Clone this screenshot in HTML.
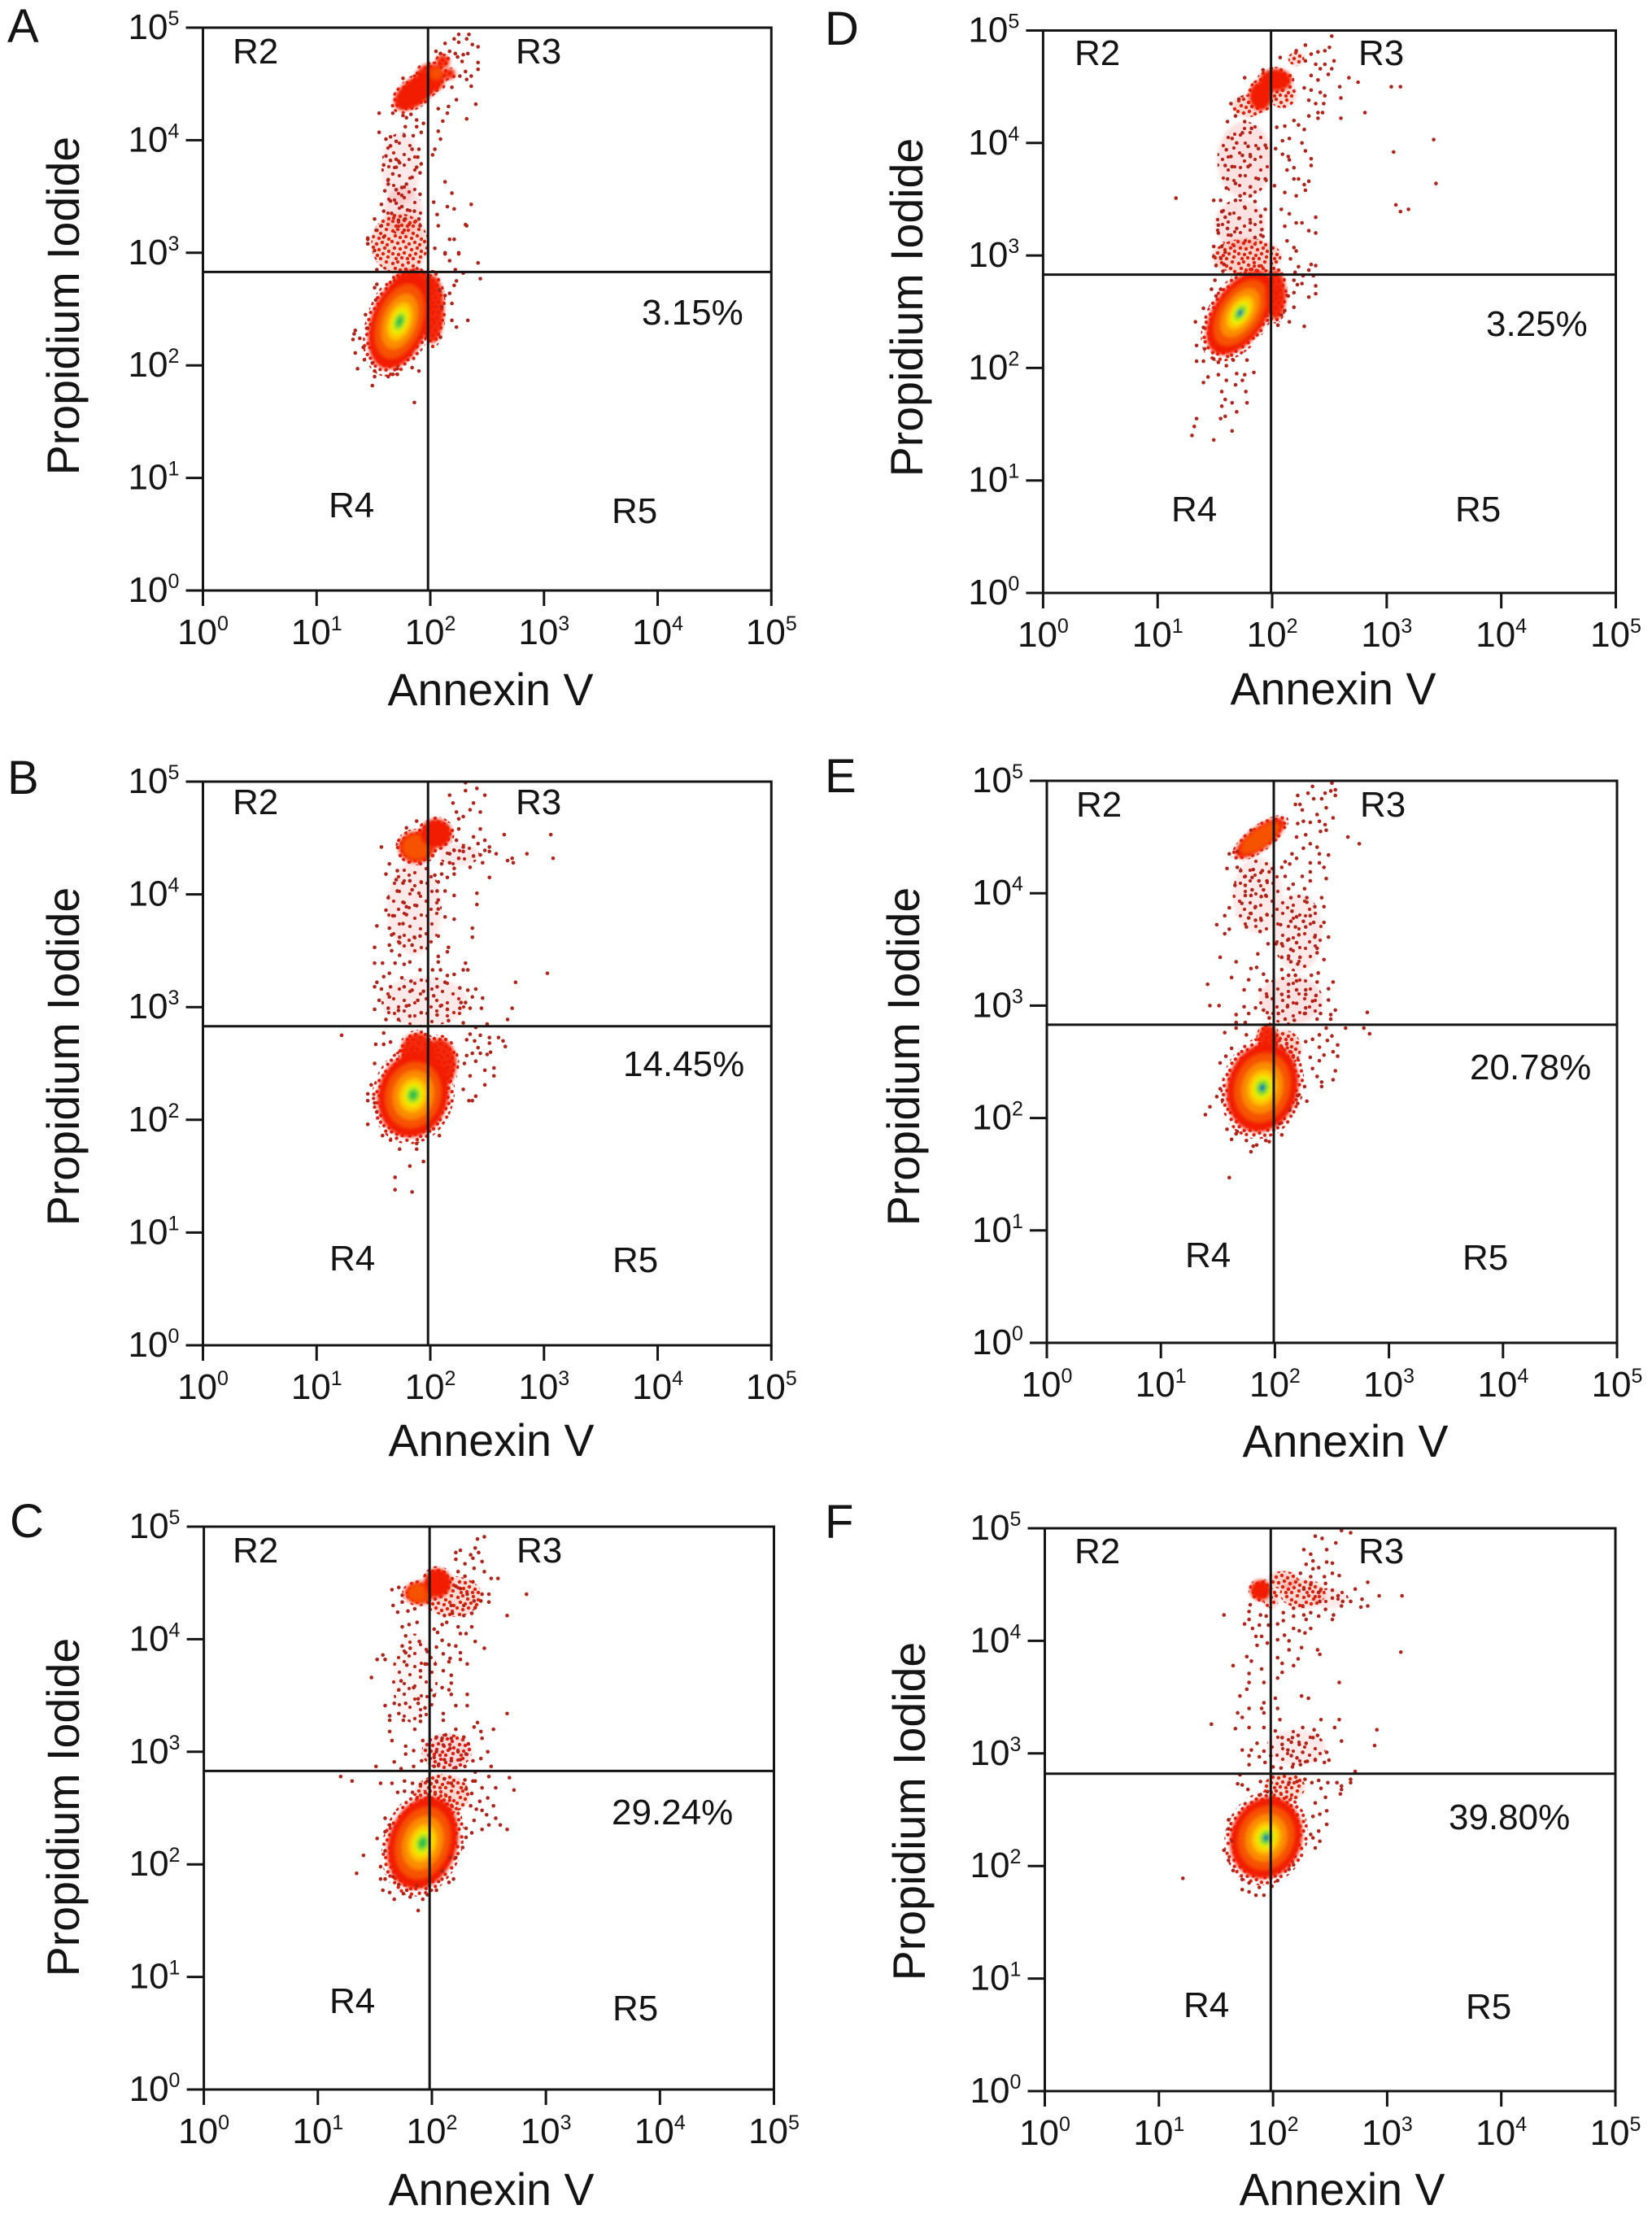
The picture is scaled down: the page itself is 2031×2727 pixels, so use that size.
<!DOCTYPE html>
<html lang="en">
<head>
<meta charset="utf-8">
<title>Annexin V / Propidium Iodide flow cytometry panels</title>
<style>
html,body{margin:0;padding:0;background:#fff;}
svg{display:block;}
text{font-family:"Liberation Sans",Arial,sans-serif;fill:#141414;}
</style>
</head>
<body>
<svg id="figure" xmlns="http://www.w3.org/2000/svg" width="2031" height="2727" viewBox="0 0 2031 2727">
<defs>
<filter id="soft" x="-30%" y="-30%" width="160%" height="160%"><feGaussianBlur stdDeviation="2"/></filter>
<pattern id="speckle-dense" patternUnits="userSpaceOnUse" width="40" height="40">
<g fill="#dc2010"><circle cx="3" cy="4" r="2.2"/><circle cx="9" cy="2" r="2.2"/><circle cx="15" cy="6" r="2.2"/><circle cx="22" cy="3" r="2.2"/><circle cx="28" cy="7" r="2.2"/><circle cx="35" cy="2" r="2.2"/><circle cx="6" cy="10" r="2.2"/><circle cx="12" cy="12" r="2.2"/><circle cx="19" cy="11" r="2.2"/><circle cx="26" cy="13" r="2.2"/><circle cx="33" cy="10" r="2.2"/><circle cx="38" cy="14" r="2.2"/><circle cx="2" cy="17" r="2.2"/><circle cx="9" cy="19" r="2.2"/><circle cx="16" cy="17" r="2.2"/><circle cx="23" cy="20" r="2.2"/><circle cx="30" cy="18" r="2.2"/><circle cx="36" cy="21" r="2.2"/><circle cx="5" cy="25" r="2.2"/><circle cx="12" cy="26" r="2.2"/><circle cx="19" cy="24" r="2.2"/><circle cx="26" cy="27" r="2.2"/><circle cx="33" cy="25" r="2.2"/><circle cx="38" cy="29" r="2.2"/><circle cx="3" cy="32" r="2.2"/><circle cx="10" cy="33" r="2.2"/><circle cx="17" cy="31" r="2.2"/><circle cx="24" cy="34" r="2.2"/><circle cx="31" cy="32" r="2.2"/><circle cx="37" cy="36" r="2.2"/><circle cx="7" cy="38" r="2.2"/><circle cx="14" cy="37" r="2.2"/><circle cx="21" cy="38" r="2.2"/><circle cx="28" cy="38" r="2.2"/></g>
</pattern>
<pattern id="speckle-sparse" patternUnits="userSpaceOnUse" width="40" height="40">
<g fill="#b8261a"><circle cx="5" cy="6" r="2.1"/><circle cx="17" cy="3" r="2.1"/><circle cx="30" cy="9" r="2.1"/><circle cx="11" cy="16" r="2.1"/><circle cx="24" cy="19" r="2.1"/><circle cx="37" cy="22" r="2.1"/><circle cx="4" cy="28" r="2.1"/><circle cx="17" cy="30" r="2.1"/><circle cx="30" cy="33" r="2.1"/><circle cx="38" cy="5" r="2.1"/><circle cx="10" cy="38" r="2.1"/><circle cx="23" cy="36" r="2.1"/></g>
</pattern>
</defs>
<rect width="2031" height="2727" fill="#fff"/>
</svg>
<script>
// ---- shared chart values ----
const tickExponents = [0, 1, 2, 3, 4, 5];
const xAxisTitle = "Annexin V";
const yAxisTitle = "Propidium Iodide";
const regionNames = ["R2", "R3", "R4", "R5"];
const densityColors = ["#f21c00", "#f65200", "#fb8c00", "#ffc400", "#ecef00", "#98e020", "#20c048", "#1048c8"];
const densityLevels = [1, 0.78, 0.58, 0.40, 0.28, 0.19, 0.11, 0.06];

// Quadrant gates, in log10 decades
const gateX = { A: 1.98, B: 1.98, C: 1.98, D: 1.99, E: 1.99, F: 1.98 };
const gateY = { A: 2.83, B: 2.83, C: 2.83, D: 2.83, E: 2.83, F: 2.82 };

// Printed R5 percentages
const percentLabels = { A: "3.15%", B: "14.45%", C: "29.24%", D: "3.25%", E: "20.78%", F: "39.80%" };

// Density clusters: [logX, logY, spreadX, spreadY, tilt, levels, opacity]
const clustersA = [[1.76,3.37,0.17,0.22,0,1,0.4],[1.73,3.08,0.25,0.27,0,1,0.6],[1.74,3.75,0.17,0.32,0,1,0.3],[2.02,2.5,0.1,0.3,0,1,0.95],[1.85,2.72,0.18,0.13,0,1,0.95],[1.73,2.39,0.25,0.44,20,7,1],[1.87,4.43,0.22,0.12,-38,1,1],[2.0,4.55,0.13,0.13,0,1,0.95],[2.11,4.70,0.06,0.06,0,1,0.9],[2.17,4.59,0.05,0.05,0,1,0.9],[2.05,4.59,0.07,0.07,0,2,0.9]];
const clustersB = [[1.86,3.88,0.24,0.42,0,1,0.3],[1.95,3.05,0.38,0.22,0,1,0.3],[1.89,2.6,0.15,0.17,0,1,0.95],[2.08,2.5,0.15,0.22,0,1,0.95],[1.85,2.22,0.31,0.38,15,7,1],[1.88,4.42,0.16,0.14,0,2,1],[2.05,4.54,0.14,0.13,0,1,1],[2.25,4.35,0.18,0.1,0,1,0.3]];
const clustersC = [[2.13,3.00,0.22,0.16,0,1,0.5],[2.09,2.62,0.24,0.18,0,1,0.6],[1.92,2.19,0.30,0.42,18,7,1],[1.89,4.41,0.13,0.1,0,2,1],[2.05,4.5,0.12,0.13,0,1,1],[2.18,4.38,0.26,0.18,0,1,0.55],[1.85,3.65,0.2,0.4,0,1,0.15]];
const clustersD = [[1.76,3.85,0.24,0.34,0,1,0.4],[1.72,3.28,0.22,0.22,0,1,0.4],[1.78,2.99,0.3,0.16,0,1,0.7],[1.72,2.49,0.23,0.42,33,8,1],[2.03,2.65,0.09,0.22,0,1,0.95],[2.03,4.56,0.14,0.1,0,1,1],[1.90,4.42,0.1,0.13,0,1,1],[1.79,4.33,0.14,0.1,0,1,0.6],[2.09,4.43,0.12,0.12,0,1,0.6],[2.21,4.75,0.07,0.06,0,1,0.6]];
const clustersE = [[2.14,3.05,0.28,0.22,0,1,0.4],[1.85,3.98,0.22,0.34,0,1,0.3],[2.2,3.65,0.22,0.35,0,1,0.3],[1.94,2.7,0.09,0.13,0,1,0.95],[2.09,2.62,0.14,0.16,0,1,0.7],[1.89,2.27,0.31,0.40,15,8,1],[1.87,4.49,0.26,0.1,-37,2,1]];
const clustersF = [[2.2,3.05,0.26,0.16,0,1,0.3],[2.10,2.7,0.18,0.13,0,1,0.55],[1.89,4.45,0.09,0.09,0,1,1],[1.98,4.38,0.07,0.09,0,1,0.7],[2.09,4.54,0.13,0.08,0,1,0.7],[2.26,4.42,0.2,0.13,0,1,0.6],[2.50,4.38,0.16,0.09,0,1,0.3],[1.94,2.25,0.31,0.37,20,8,1]];

// Individual events: [log10 Annexin V, log10 Propidium Iodide]
const dotsA = [[2.25,4.94],[2.34,4.94],[2.21,4.90],[2.25,4.87],[2.32,4.90],[2.13,4.86],[2.37,4.85],[2.42,4.83],[2.05,4.79],[2.17,4.79],[2.09,4.77],[2.22,4.77],[2.29,4.76],[2.33,4.77],[2.24,4.74],[2.28,4.70],[2.42,4.69],[2.42,4.63],[2.31,4.61],[2.26,4.57],[2.36,4.57],[2.32,4.54],[2.36,4.48],[2.19,4.47],[2.23,4.36],[2.40,4.32],[2.32,4.19],[2.15,4.24],[2.11,4.17],[2.16,4.30],[2.07,4.28],[1.76,4.55],[1.55,4.24],[1.67,4.24],[1.55,4.07],[1.65,4.03],[1.61,4.01],[1.70,3.99],[1.65,3.95],[1.61,3.86],[1.59,3.78],[1.65,3.82],[1.70,3.83],[1.73,3.80],[1.70,3.76],[1.67,3.70],[1.63,3.65],[1.63,3.61],[1.60,3.55],[1.70,3.56],[1.75,3.58],[1.79,3.61],[1.84,3.67],[1.91,3.71],[1.88,3.76],[1.92,3.79],[1.89,3.85],[1.84,3.92],[1.90,3.92],[2.04,3.92],[2.02,3.87],[1.77,4.04],[1.85,4.04],[1.94,4.15],[1.92,4.07],[1.79,4.20],[1.83,4.23],[1.76,4.22],[1.78,4.12],[1.88,4.18],[1.88,4.12],[2.07,4.08],[2.09,4.01],[2.13,3.63],[2.19,3.53],[2.03,3.45],[2.15,3.41],[2.21,3.39],[2.36,3.43],[2.06,3.34],[2.07,3.24],[2.32,3.24],[2.17,3.12],[2.21,3.12],[2.04,3.04],[2.13,2.99],[2.25,2.99],[1.45,3.12],[1.45,3.08],[1.51,3.30],[1.57,3.43],[1.59,3.37],[1.65,3.46],[1.70,3.44],[1.75,3.41],[1.80,3.38],[1.86,3.37],[1.91,3.52],[1.53,3.20],[1.57,3.24],[1.75,3.51],[1.66,3.35],[1.72,3.29],[1.78,3.30],[1.90,3.30],[1.91,3.24],[1.59,3.14],[2.42,2.91],[2.44,2.77],[2.31,3.25],[2.13,3.00],[2.25,3.00],[2.17,2.93],[2.22,2.85],[2.29,2.82],[2.23,2.75],[2.21,2.71],[2.17,2.64],[2.19,2.55],[2.19,2.40],[2.33,2.40],[2.23,2.34],[2.09,2.25],[2.10,2.52],[2.13,2.62],[2.08,2.67],[1.33,2.28],[1.34,2.31],[1.32,2.23],[1.34,2.11],[1.38,2.24],[1.42,2.05],[1.36,1.97],[1.49,1.82],[1.51,1.95],[1.51,1.90],[1.63,1.90],[1.67,1.92],[1.71,1.97],[1.71,1.92],[1.84,1.98],[1.90,1.95],[1.86,1.67],[1.49,2.02],[1.43,2.45],[1.45,2.33],[1.41,2.16],[1.52,2.58],[1.51,2.69],[1.53,2.72],[1.45,3.13],[1.45,3.08],[1.51,3.02],[1.53,2.85]];

const dotsB = [[2.31,4.99],[2.31,4.92],[2.41,4.94],[2.48,4.88],[2.17,4.88],[2.20,4.81],[2.38,4.81],[2.35,4.75],[2.23,4.73],[2.44,4.73],[2.29,4.69],[2.25,4.67],[2.25,4.58],[2.44,4.58],[2.38,4.51],[2.48,4.48],[2.65,4.53],[3.06,4.53],[2.85,4.36],[3.08,4.32],[2.72,4.32],[2.68,4.30],[2.73,4.28],[2.58,4.36],[2.52,4.42],[2.52,4.38],[2.48,4.39],[2.44,4.35],[2.38,4.34],[2.42,4.45],[2.29,4.42],[2.29,4.38],[2.23,4.48],[2.21,4.39],[2.17,4.36],[2.25,4.32],[2.17,4.28],[2.10,4.27],[2.35,4.24],[2.21,4.23],[2.46,4.28],[2.52,4.15],[2.21,4.18],[2.15,4.15],[2.10,4.18],[2.04,4.17],[2.07,4.11],[1.57,4.42],[1.79,4.59],[1.88,4.65],[1.64,4.27],[1.71,4.21],[1.61,4.18],[1.70,4.13],[1.76,4.10],[1.82,4.12],[1.92,4.11],[1.84,4.04],[1.90,4.01],[1.71,4.03],[1.63,3.97],[1.76,3.93],[1.88,3.90],[1.79,3.89],[2.06,4.03],[2.13,4.03],[2.21,3.99],[2.07,3.95],[2.41,4.01],[2.41,3.91],[2.07,3.87],[2.13,3.80],[2.21,3.78],[1.61,3.86],[1.67,3.81],[1.79,3.82],[1.76,3.74],[1.53,3.72],[1.64,3.70],[1.66,3.64],[1.73,3.62],[1.86,3.62],[1.91,3.63],[2.37,3.70],[2.37,3.62],[2.07,3.63],[2.16,3.53],[1.51,3.53],[1.64,3.55],[1.73,3.57],[1.84,3.55],[1.66,3.50],[1.73,3.46],[1.51,3.39],[1.58,3.39],[1.69,3.39],[1.77,3.38],[1.82,3.40],[1.91,3.33],[2.07,3.45],[2.07,3.40],[2.15,3.49],[2.31,3.39],[2.29,3.33],[2.33,3.33],[3.03,3.30],[2.75,3.22],[2.09,3.33],[2.02,3.33],[2.21,3.29],[2.15,3.28],[1.53,3.22],[1.59,3.27],[1.64,3.30],[1.65,3.18],[1.51,3.18],[1.57,3.16],[1.75,3.26],[1.83,3.23],[1.77,3.18],[1.84,3.15],[1.94,3.14],[2.06,3.18],[2.13,3.22],[2.26,3.17],[2.33,3.15],[2.40,3.16],[2.37,3.09],[2.46,3.08],[2.27,3.04],[2.31,3.04],[2.35,2.99],[2.45,2.99],[2.26,2.99],[2.72,2.99],[2.68,2.89],[2.50,2.85],[2.40,2.82],[2.29,2.86],[2.15,2.98],[2.09,3.01],[2.03,3.10],[1.89,3.06],[1.79,3.01],[1.72,2.97],[1.64,3.09],[1.55,3.06],[1.51,2.98],[1.63,2.99],[1.61,2.89],[1.72,2.89],[1.82,2.92],[1.92,2.95],[2.06,2.93],[2.16,2.88],[1.22,2.75],[2.52,2.73],[2.60,2.73],[2.64,2.70],[2.66,2.65],[2.52,2.68],[2.44,2.75],[2.35,2.76],[2.32,2.71],[2.39,2.70],[2.42,2.64],[2.53,2.60],[2.50,2.58],[2.44,2.59],[2.37,2.59],[2.32,2.57],[2.40,2.52],[2.30,2.50],[2.48,2.44],[2.56,2.46],[2.56,2.39],[2.35,2.39],[2.48,2.31],[2.29,2.27],[2.40,2.21],[2.34,2.17],[2.37,2.17],[2.08,1.86],[1.52,2.67],[1.59,2.67],[1.65,2.69],[1.51,2.50],[1.59,2.77],[1.45,2.23],[1.45,2.17],[1.51,2.15],[1.53,2.07],[1.45,1.96],[1.48,2.31],[1.58,1.86],[1.65,1.82],[1.73,1.74],[1.88,1.79],[1.88,1.74],[1.82,1.59],[1.94,1.63],[1.69,1.49],[1.69,1.38],[1.84,1.36]];

const dotsC = [[2.46,4.91],[2.40,4.89],[2.25,4.79],[2.21,4.77],[2.38,4.81],[2.41,4.77],[2.34,4.75],[2.36,4.72],[2.21,4.71],[2.44,4.69],[2.29,4.67],[2.37,4.63],[2.46,4.60],[2.23,4.60],[2.29,4.56],[2.52,4.54],[2.58,4.54],[2.36,4.51],[2.83,4.40],[2.50,4.40],[2.44,4.40],[2.50,4.33],[2.43,4.34],[2.37,4.34],[2.31,4.40],[2.25,4.45],[2.21,4.47],[2.28,4.30],[2.38,4.28],[2.66,4.21],[2.35,4.23],[2.28,4.21],[2.17,4.30],[2.11,4.21],[2.18,4.23],[2.13,4.15],[2.23,4.11],[2.35,4.11],[2.30,4.05],[2.25,4.05],[2.38,3.98],[2.46,3.92],[2.09,4.13],[2.02,4.09],[2.05,4.06],[2.09,3.99],[2.15,3.95],[2.21,3.94],[2.25,3.88],[2.04,3.93],[2.10,3.87],[2.16,3.83],[2.15,3.80],[2.25,3.82],[2.31,3.78],[2.03,3.78],[2.10,3.72],[2.17,3.68],[2.17,3.61],[2.09,3.57],[2.15,3.55],[2.17,3.51],[2.31,3.51],[2.02,3.50],[2.21,3.41],[2.31,3.41],[2.66,3.34],[2.10,3.34],[2.10,3.28],[2.40,3.26],[2.37,3.22],[2.54,3.20],[2.43,3.18],[2.44,3.12],[2.21,3.20],[1.65,4.44],[1.71,4.46],[1.66,4.30],[1.70,4.24],[1.74,4.39],[1.74,4.33],[1.79,4.25],[1.85,4.27],[1.74,4.11],[1.80,4.13],[1.87,4.15],[1.77,4.03],[1.74,3.94],[1.81,3.92],[1.89,3.98],[1.77,3.88],[1.96,3.89],[1.57,3.86],[1.52,3.82],[1.59,3.82],[1.78,3.77],[1.94,3.78],[1.90,3.72],[1.47,3.66],[1.73,3.63],[1.84,3.57],[1.71,3.55],[1.88,3.47],[1.88,3.43],[1.59,3.41],[1.67,3.43],[1.77,3.43],[1.94,3.39],[1.63,3.32],[1.71,3.34],[1.90,3.32],[1.63,3.28],[1.75,3.28],[1.90,3.27],[1.85,3.20],[1.63,3.18],[1.65,3.10],[1.77,3.05],[1.92,3.10],[1.84,3.01],[1.77,2.98],[1.67,2.91],[1.51,2.87],[1.73,2.85],[1.84,2.87],[1.91,2.92],[2.04,3.13],[2.09,3.12],[2.12,3.15],[2.17,3.12],[2.28,3.13],[2.32,3.07],[2.10,3.06],[2.04,3.00],[2.02,2.95],[2.16,3.03],[2.23,3.00],[2.30,2.98],[2.49,3.00],[2.43,2.94],[2.52,2.87],[2.36,2.92],[2.25,2.93],[2.17,2.92],[2.11,2.93],[2.06,2.89],[2.21,2.86],[2.29,2.87],[2.02,2.87],[2.38,2.82],[1.20,2.78],[1.30,2.74],[1.55,2.72],[1.65,2.72],[1.76,2.74],[1.83,2.72],[1.76,2.65],[1.70,2.64],[1.83,2.64],[1.90,2.71],[1.96,2.74],[2.04,2.74],[2.11,2.76],[2.17,2.72],[2.29,2.75],[2.36,2.74],[2.50,2.78],[2.68,2.77],[2.72,2.66],[2.56,2.68],[2.44,2.68],[2.38,2.74],[2.30,2.67],[2.35,2.63],[2.49,2.59],[2.42,2.56],[2.54,2.52],[2.34,2.52],[2.39,2.49],[2.44,2.48],[2.48,2.44],[2.56,2.41],[2.37,2.39],[2.50,2.35],[2.60,2.35],[2.66,2.31],[2.44,2.31],[2.30,2.32],[2.35,2.28],[2.30,2.24],[2.27,2.15],[2.21,2.06],[2.16,2.06],[1.40,2.08],[1.34,1.92],[1.59,2.41],[1.63,2.35],[1.59,2.29],[1.52,2.23],[1.59,2.12],[1.55,1.98],[1.55,1.87],[1.59,1.87],[1.57,1.77],[1.63,1.75],[1.67,1.69],[1.75,1.74],[1.81,1.71],[1.88,1.59],[1.92,1.69],[1.96,1.73],[2.04,1.77],[2.15,1.84],[2.19,1.87],[2.09,1.94],[1.78,1.77],[1.87,1.81],[1.71,1.82],[1.66,1.89]];

const dotsD = [[2.52,4.95],[2.50,4.85],[2.29,4.87],[2.21,4.82],[2.40,4.81],[2.46,4.82],[2.34,4.79],[2.07,4.76],[2.29,4.73],[2.54,4.73],[2.38,4.70],[2.46,4.70],[2.42,4.66],[2.52,4.66],[2.49,4.61],[2.67,4.58],[2.75,4.54],[3.04,4.50],[3.12,4.50],[2.59,4.50],[2.34,4.60],[2.40,4.56],[2.28,4.49],[2.34,4.47],[2.42,4.45],[2.46,4.42],[2.60,4.40],[2.32,4.38],[2.38,4.35],[2.45,4.35],[2.40,4.27],[2.44,4.27],[2.32,4.24],[2.40,4.22],[2.81,4.27],[2.60,4.22],[2.19,4.20],[2.23,4.16],[2.28,4.12],[2.11,4.15],[2.04,4.14],[2.15,4.04],[2.26,4.00],[2.29,3.93],[2.34,3.86],[2.34,3.80],[2.09,4.02],[2.03,3.95],[2.09,3.90],[2.14,3.88],[2.15,3.85],[2.13,3.76],[2.19,3.78],[2.19,3.68],[2.23,3.68],[2.32,3.66],[2.28,3.63],[2.02,3.62],[2.29,3.58],[2.11,3.56],[2.21,3.53],[2.08,3.41],[2.15,3.37],[2.38,3.34],[2.26,3.29],[2.21,3.29],[2.11,3.26],[2.32,3.22],[2.38,3.20],[2.13,3.13],[2.19,3.07],[2.21,3.04],[2.16,2.97],[2.23,2.90],[2.34,2.92],[2.38,2.91],[2.32,2.87],[2.20,2.85],[2.27,2.82],[2.36,2.82],[3.41,4.03],[3.06,3.92],[3.43,3.64],[3.08,3.45],[3.12,3.39],[3.19,3.41],[1.16,3.51],[1.76,4.58],[1.92,4.65],[1.64,4.35],[1.71,4.39],[1.68,4.24],[1.61,4.19],[1.76,4.19],[1.82,4.13],[1.74,4.09],[1.65,4.04],[1.69,4.00],[1.79,3.97],[1.60,3.94],[1.64,3.88],[1.74,3.89],[1.81,3.88],[1.88,3.95],[1.94,3.98],[1.59,3.80],[1.65,3.79],[1.79,3.79],[1.72,3.71],[1.61,3.68],[1.88,3.68],[1.94,3.68],[1.68,3.64],[1.60,3.60],[1.81,3.61],[1.72,3.53],[1.81,3.53],[1.49,3.49],[1.55,3.49],[1.68,3.49],[1.85,3.48],[1.76,3.43],[1.56,3.39],[1.94,3.41],[1.63,3.37],[1.90,3.35],[1.59,3.34],[1.71,3.33],[1.81,3.29],[1.53,3.27],[1.61,3.24],[1.69,3.24],[1.91,3.23],[1.53,3.20],[1.64,3.18],[1.85,3.16],[1.92,3.17],[1.49,3.08],[1.56,3.08],[1.59,3.03],[1.49,2.99],[1.55,2.98],[1.51,2.91],[1.58,2.92],[1.57,2.86],[1.50,2.78],[1.47,2.70],[1.55,2.70],[1.51,2.64],[2.19,2.78],[2.22,2.74],[2.26,2.75],[2.38,2.73],[2.38,2.66],[2.32,2.63],[2.19,2.67],[2.14,2.64],[2.19,2.54],[2.15,2.41],[2.28,2.37],[2.08,2.47],[2.11,2.51],[2.05,2.38],[1.40,2.53],[1.33,2.41],[1.34,2.20],[1.41,2.17],[1.40,2.36],[1.34,2.06],[1.40,2.06],[1.49,2.08],[1.53,2.05],[1.60,2.02],[1.66,2.07],[1.78,2.07],[1.69,1.95],[1.76,1.94],[1.84,1.96],[1.53,1.94],[1.44,1.92],[1.40,1.87],[1.60,1.89],[1.68,1.85],[1.74,1.89],[1.56,1.79],[1.77,1.79],[1.59,1.72],[1.65,1.69],[1.78,1.69],[1.56,1.66],[1.69,1.61],[1.34,1.55],[1.32,1.48],[1.55,1.55],[1.59,1.57],[1.30,1.40],[1.49,1.36],[1.65,1.44]];

const dotsE = [[2.50,4.98],[2.33,4.95],[2.53,4.92],[2.49,4.91],[2.44,4.89],[2.29,4.89],[2.20,4.87],[2.53,4.87],[2.41,4.84],[2.34,4.84],[2.18,4.79],[2.22,4.79],[2.45,4.76],[2.24,4.74],[2.37,4.70],[2.51,4.67],[2.39,4.64],[2.44,4.61],[2.25,4.64],[2.31,4.63],[2.20,4.62],[2.45,4.56],[2.40,4.55],[2.64,4.50],[2.74,4.44],[2.19,4.50],[2.27,4.52],[2.31,4.44],[2.37,4.41],[2.25,4.40],[2.47,4.34],[2.39,4.35],[2.15,4.35],[2.19,4.31],[2.31,4.27],[2.39,4.27],[2.43,4.23],[2.31,4.19],[2.24,4.15],[2.09,4.28],[2.13,4.26],[2.06,4.23],[2.09,4.15],[2.16,4.08],[2.31,4.11],[2.45,4.13],[2.26,4.04],[2.12,4.04],[2.14,3.96],[2.28,3.96],[2.41,3.96],[2.28,3.92],[2.35,3.88],[2.43,3.88],[2.15,3.84],[2.31,3.80],[2.14,3.75],[2.19,3.79],[2.25,3.75],[2.34,3.74],[2.43,3.74],[2.18,3.70],[2.27,3.70],[2.05,3.72],[2.21,3.63],[2.35,3.61],[2.47,3.61],[2.12,3.59],[2.19,3.56],[2.06,3.55],[2.01,3.55],[2.14,3.50],[2.37,3.51],[2.37,3.47],[2.22,3.43],[2.12,3.44],[2.06,3.43],[2.43,3.41],[2.20,3.37],[2.14,3.39],[2.06,3.32],[2.38,3.29],[2.18,3.27],[2.12,3.27],[2.32,3.27],[2.37,3.21],[2.51,3.21],[2.19,3.22],[2.12,3.19],[2.47,3.15],[2.27,3.14],[2.19,3.14],[2.06,3.10],[2.12,3.08],[2.27,3.10],[2.36,3.09],[2.47,3.05],[2.19,3.02],[2.33,3.04],[2.11,2.99],[2.27,2.98],[2.40,2.93],[2.53,2.96],[2.49,2.92],[2.81,2.94],[2.49,2.88],[2.37,2.88],[2.26,2.93],[2.17,2.87],[2.09,2.88],[2.03,2.93],[1.60,3.87],[1.56,3.80],[1.49,3.72],[1.60,3.68],[1.56,3.64],[1.75,3.70],[1.87,3.66],[1.83,3.76],[1.77,3.78],[1.88,3.76],[1.83,3.88],[1.79,3.82],[1.93,3.81],[1.71,3.91],[1.74,3.98],[1.79,3.98],[1.88,3.97],[1.92,3.98],[1.65,4.07],[1.74,4.07],[1.80,4.03],[1.90,4.03],[1.74,4.15],[1.80,4.14],[1.86,4.11],[1.93,4.11],[1.81,4.21],[1.89,4.20],[1.95,4.19],[1.58,4.22],[1.67,4.23],[1.70,4.20],[1.60,4.35],[1.67,4.37],[1.79,4.56],[1.52,3.43],[1.66,3.39],[1.79,3.33],[1.84,3.34],[1.94,3.55],[1.85,3.46],[1.62,3.25],[1.77,3.23],[1.90,3.28],[1.93,3.22],[1.41,3.19],[1.73,3.14],[1.87,3.14],[1.93,3.08],[1.43,3.00],[1.51,3.00],[1.73,2.99],[1.83,2.98],[1.77,2.93],[1.90,2.96],[1.66,2.92],[1.95,2.89],[1.66,2.85],[1.74,2.85],[1.56,2.76],[1.66,2.80],[1.75,2.74],[2.62,2.80],[2.78,2.80],[2.83,2.75],[2.45,2.80],[2.50,2.73],[2.39,2.74],[2.46,2.69],[2.55,2.65],[2.33,2.70],[2.27,2.68],[2.39,2.63],[2.51,2.59],[2.55,2.55],[2.43,2.56],[2.31,2.54],[2.39,2.51],[2.53,2.42],[2.33,2.44],[2.37,2.37],[2.51,2.34],[2.41,2.32],[2.41,2.28],[2.26,2.28],[2.20,2.20],[2.28,2.15],[2.20,2.13],[2.06,1.85],[2.04,1.95],[2.13,2.07],[1.60,1.47],[1.79,1.70],[1.81,1.75],[1.84,1.76],[1.92,1.80],[1.95,1.79],[1.75,1.80],[1.62,1.81],[1.67,1.88],[1.58,1.90],[1.39,2.03],[1.43,2.10],[1.49,2.19],[1.54,2.16],[1.52,2.26],[1.52,2.49],[1.57,2.55],[1.62,2.62],[1.66,1.86]];

const dotsF = [[2.60,4.98],[2.68,4.96],[2.37,4.93],[2.43,4.91],[2.55,4.87],[2.27,4.81],[2.47,4.81],[2.33,4.77],[2.35,4.71],[2.47,4.70],[2.52,4.69],[2.29,4.68],[2.40,4.65],[2.35,4.64],[2.52,4.60],[2.58,4.58],[2.24,4.60],[2.33,4.57],[2.45,4.57],[2.83,4.52],[2.46,4.51],[2.72,4.46],[2.52,4.45],[2.33,4.50],[2.27,4.46],[2.40,4.43],[2.57,4.40],[2.93,4.40],[3.13,4.40],[2.78,4.37],[2.61,4.35],[2.68,4.35],[2.77,4.30],[2.83,4.31],[2.41,4.35],[2.52,4.38],[2.46,4.28],[2.60,4.31],[2.53,4.23],[2.52,4.19],[2.40,4.22],[2.33,4.25],[2.27,4.23],[2.29,4.19],[2.18,4.22],[2.09,4.25],[2.18,4.29],[2.26,4.31],[2.04,4.15],[2.09,4.18],[2.18,4.11],[2.23,4.09],[2.28,4.07],[2.33,4.11],[2.10,4.05],[2.14,4.00],[2.04,4.01],[2.14,3.92],[2.25,3.94],[2.39,3.92],[2.41,3.88],[2.22,3.84],[2.08,3.80],[2.18,3.78],[2.04,3.85],[2.08,3.72],[2.04,3.67],[2.58,3.63],[3.12,3.90],[1.57,4.23],[1.79,4.26],[1.80,4.32],[1.79,4.19],[1.75,4.15],[1.82,4.11],[1.89,4.23],[1.94,4.22],[1.88,4.14],[1.96,4.14],[1.85,4.04],[1.90,4.04],[1.95,3.98],[1.86,3.96],[1.77,3.86],[1.81,3.82],[1.65,3.78],[1.90,3.75],[1.79,3.71],[1.79,3.63],[1.92,3.63],[1.77,3.57],[1.71,3.51],[1.92,3.45],[1.79,3.40],[1.90,3.40],[1.92,3.36],[1.69,3.36],[1.73,3.32],[1.46,3.26],[1.67,3.22],[1.79,3.23],[1.92,3.23],[2.02,3.49],[2.04,3.40],[2.06,3.30],[2.25,3.51],[2.31,3.49],[2.42,3.30],[2.58,3.30],[2.54,3.23],[2.91,3.21],[2.89,3.07],[2.60,3.11],[2.02,3.20],[2.26,3.23],[2.36,3.21],[2.35,3.14],[2.39,3.16],[2.22,3.16],[2.17,3.14],[2.08,3.14],[2.08,3.08],[2.16,3.10],[2.23,3.08],[2.29,3.09],[2.26,3.01],[2.13,3.03],[2.47,3.01],[2.16,2.98],[2.21,2.96],[2.30,2.93],[2.37,2.94],[2.45,2.92],[2.49,2.94],[2.17,2.88],[2.24,2.90],[1.86,3.09],[1.73,3.03],[1.81,3.03],[1.92,3.02],[1.79,2.98],[1.88,2.97],[1.98,2.98],[1.79,2.90],[1.93,2.92],[2.00,2.88],[2.07,2.87],[2.72,2.84],[1.71,2.81],[1.69,2.73],[1.73,2.72],[1.78,2.68],[1.89,2.75],[1.95,2.66],[1.88,2.63],[2.68,2.77],[2.68,2.74],[2.56,2.74],[2.60,2.71],[2.60,2.68],[2.59,2.64],[2.48,2.74],[2.42,2.69],[2.40,2.76],[2.34,2.74],[2.21,2.75],[2.14,2.74],[2.28,2.77],[2.46,2.61],[2.37,2.56],[2.47,2.49],[2.41,2.46],[2.35,2.44],[2.47,2.37],[2.40,2.31],[2.33,2.28],[2.35,2.25],[2.41,2.22],[2.37,2.16],[2.18,2.01],[2.14,1.97],[2.04,1.87],[1.99,1.82],[1.21,1.89],[1.61,2.41],[1.61,2.33],[1.64,2.22],[1.57,2.14],[1.61,2.05],[1.65,1.96],[1.73,1.88],[1.79,1.85],[1.88,1.81],[1.92,1.74],[1.73,1.79],[1.79,1.77],[1.85,1.74]];

// ---- page layout (pixels), not data ----
const layouts = {
  A: {left:249.5, right:948.3, top:34, bottom:726, lx:9, ly:52, title:[603,867], yt:[97,376], r:[[286,78],[634,78],[404,636],[752,643]], pct:[789,399]},
  B: {left:249.5, right:948.3, top:961, bottom:1654, lx:9, ly:976, title:[604,1790], yt:[97,1299], r:[[286,1001],[634,1001],[405,1562],[753,1564]], pct:[766,1323]},
  C: {left:250.6, right:951.5, top:1877, bottom:2569, lx:12, ly:1890, title:[604,2711], yt:[97,2222], r:[[286,1921],[635,1921],[405,2475],[753,2484]], pct:[752,2243]},
  D: {left:1282.4, right:1986.5, top:37.5, bottom:729, lx:1014, ly:55, title:[1639,866], yt:[1134,378], r:[[1321,80],[1670,80],[1440,641],[1789,641]], pct:[1827,413]},
  E: {left:1287, right:1988, top:960, bottom:1651, lx:1014, ly:974, title:[1654,1791], yt:[1130,1299], r:[[1323,1004],[1672,1004],[1457,1558],[1798,1561]], pct:[1807,1327]},
  F: {left:1284.5, right:1986, top:1879, bottom:2571, lx:1014, ly:1891, title:[1650,2711], yt:[1137,2227], r:[[1321,1922],[1670,1922],[1455,2480],[1802,2482]], pct:[1781,2249]}
};
const panelClusters = { A: clustersA, B: clustersB, C: clustersC, D: clustersD, E: clustersE, F: clustersF };
const panelDots = { A: dotsA, B: dotsB, C: dotsC, D: dotsD, E: dotsE, F: dotsF };

const SVG_NS = "http://www.w3.org/2000/svg";
const root = document.getElementById("figure");

function shape(parent, tag, attrs) {
  const el = document.createElementNS(SVG_NS, tag);
  for (const k in attrs) el.setAttribute(k, attrs[k]);
  parent.appendChild(el);
  return el;
}

function drawPanel(id) {
  const L = layouts[id];
  const sx = v => L.left + v * (L.right - L.left) / 5;
  const sy = v => L.bottom - v * (L.bottom - L.top) / 5;

  const panel = shape(root, "g", {});
  
  

  const letter = shape(panel, "text", {x: L.lx, y: L.ly, "font-size": 58});
  letter.textContent = id;
  
  

  // speckled fringe and sparse event regions
  const speckles = shape(panel, "g", {});
  
  
  panelClusters[id].forEach(c => {
    const cx = sx(c[0]), cy = sy(c[1]);
    const grow = c[6] >= 0.9 ? 1.16 : 1;
    const fringe = shape(speckles, "ellipse", {
      cx: cx, cy: cy,
      rx: (sx(c[2]) - sx(0)) * grow,
      ry: (sy(0) - sy(c[3])) * grow,
      fill: c[6] >= 0.5 ? "url(#speckle-dense)" : "url(#speckle-sparse)",
      transform: "rotate(" + c[4] + " " + cx + " " + cy + ")"
    });
    
    
  });

  // solid density clusters
  const density = shape(panel, "g", {filter: "url(#soft)"});
  
  
  panelClusters[id].forEach(c => {
    const cx = sx(c[0]), cy = sy(c[1]);
    const rx = sx(c[2]) - sx(0), ry = sy(0) - sy(c[3]);
    const alpha = c[6] >= 0.9 ? c[6] : c[6] * 0.3;
    const blob = shape(density, "g", {opacity: alpha, transform: "rotate(" + c[4] + " " + cx + " " + cy + ")"});
    
    
    for (let i = 0; i < c[5]; i++) {
      const ring = shape(blob, "ellipse", {cx: cx, cy: cy, rx: rx * densityLevels[i], ry: ry * densityLevels[i], fill: densityColors[i]});
      
      
    }
  });

  // individual events
  const events = shape(panel, "g", {});
  
  
  panelDots[id].forEach(d => {
    const dot = shape(events, "circle", {cx: sx(d[0]), cy: sy(d[1]), r: 2.3, fill: "#b0241a"});
    
    
  });

  // plot frame
  const frame = shape(panel, "rect", {x: L.left, y: L.top, width: L.right - L.left, height: L.bottom - L.top, fill: "none", stroke: "#141414", "stroke-width": 3});
  
  

  const gateV = shape(panel, "line", {x1: sx(gateX[id]), x2: sx(gateX[id]), y1: L.top, y2: L.bottom, stroke: "#141414", "stroke-width": 3});
  
  

  const gateH = shape(panel, "line", {x1: L.left, x2: L.right, y1: sy(gateY[id]), y2: sy(gateY[id]), stroke: "#141414", "stroke-width": 3});
  
  

  // ticks + labels
  tickExponents.forEach(e => {
    const xt = shape(panel, "line", {x1: sx(e), x2: sx(e), y1: L.bottom, y2: L.bottom + 19, stroke: "#141414", "stroke-width": 3});
    
    

    const yt = shape(panel, "line", {x1: L.left - 21, x2: L.left, y1: sy(e), y2: sy(e), stroke: "#141414", "stroke-width": 3});
    
    

    const xl = shape(panel, "text", {x: sx(e), y: L.bottom + 66, "font-size": 44, "text-anchor": "middle"});
    
    
    xl.appendChild(document.createTextNode("10"));
    const xs = shape(xl, "tspan", {dy: -17, "font-size": 25});
    xs.textContent = e;

    const yl = shape(panel, "text", {x: L.left - 92, y: sy(e) + 14, "font-size": 44});
    
    
    yl.appendChild(document.createTextNode("10"));
    const ys = shape(yl, "tspan", {dy: -17, "font-size": 25});
    ys.textContent = e;
  });

  // axis titles
  const xTitle = shape(panel, "text", {x: L.title[0], y: L.title[1], "font-size": 55.5, "text-anchor": "middle"});
  xTitle.textContent = xAxisTitle;
  
  

  const yTitle = shape(panel, "text", {x: L.yt[0], y: L.yt[1], "font-size": 55.5, "text-anchor": "middle", transform: "rotate(-90 " + L.yt[0] + " " + L.yt[1] + ")"});
  yTitle.textContent = yAxisTitle;
  
  

  // region labels and percentage
  regionNames.forEach((name, i) => {
    const rl = shape(panel, "text", {x: L.r[i][0], y: L.r[i][1], "font-size": 44});
    rl.textContent = name;
    
    
  });

  const pct = shape(panel, "text", {x: L.pct[0], y: L.pct[1], "font-size": 44});
  pct.textContent = percentLabels[id];
  
  
}

["A", "B", "C", "D", "E", "F"].forEach(drawPanel);
</script>
</body>
</html>
